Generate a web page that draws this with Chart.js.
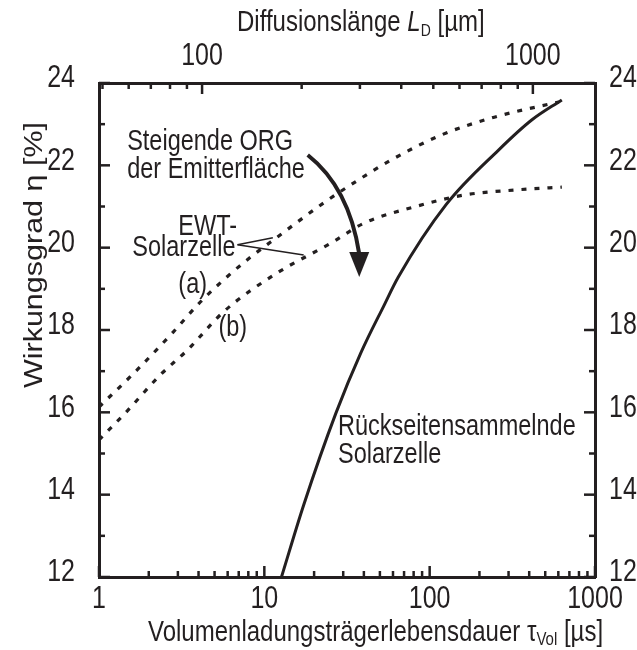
<!DOCTYPE html>
<html>
<head>
<meta charset="utf-8">
<script src="https://cdn.jsdelivr.net/npm/chart.js@4.4.1/dist/chart.umd.min.js"></script>
<style>
  body { margin: 0; background: #fff; }
</style>
</head>
<body>
<canvas id="effChart" width="637" height="650"></canvas>
<script>
    // Rückseitensammelnde Solarzelle (solid)
    const tauRueck = [12.7, 17.3, 27.1, 38.4, 53, 64.5, 126, 261, 414, 630];
    const etaRueck = [12.0, 13.75, 15.98, 17.45, 18.6, 19.28, 21.05, 22.37, 23.1, 23.59];

    // EWT-Solarzelle (a), upper dotted
    const tauEwtA = [1, 1.7, 2.81, 4.1, 5.98, 8.26, 12, 22.9, 36.9, 58.5, 118, 246, 604];
    const etaEwtA = [16.13, 17.03, 17.95, 18.68, 19.3, 19.77, 20.26, 21.09, 21.64, 22.13, 22.74, 23.17, 23.54];

    // EWT-Solarzelle (b), lower dotted
    const tauEwtB = [1, 1.44, 2.35, 3.42, 5.66, 12, 25.3, 40.3, 80.7, 162, 326, 630];
    const etaEwtB = [15.33, 15.98, 16.91, 17.51, 18.44, 19.39, 20.11, 20.6, 20.99, 21.28, 21.4, 21.47];

    // tick labels / tick marks
    const tauMajor = [1, 10, 100, 1000];
    const tauMinor = [2, 3, 4, 5, 6, 7, 8, 9, 20, 30, 40, 50, 60, 70, 80, 90, 200, 300, 400, 500, 600, 700, 800, 900];
    const ldMajor = [100, 1000];
    const ldMinor = [50, 60, 70, 80, 90, 200, 300, 400, 500, 600, 700, 800, 900];
    const etaMajor = [12, 14, 16, 18, 20, 22, 24];
    const etaMinor = [13, 15, 17, 19, 21, 23];

    const INK = '#231f20';
    const FONT = '"Liberation Sans", Arial, sans-serif';
    const STRETCH = 1.22; // the original lettering is drawn tall and narrow

    const toPoints = (xs, ys) => xs.map((x, i) => ({ x: x, y: ys[i] }));

    // text drawn taller than wide, like in the original figure
    function tallText(ctx, str, x, y, size, align, style) {
      ctx.save();
      ctx.font = (style ? style + ' ' : '') + size + 'px ' + FONT;
      ctx.textAlign = align || 'left';
      ctx.textBaseline = 'middle';
      ctx.translate(x, y);
      ctx.scale(1, STRETCH);
      ctx.fillText(str, 0, 0);
      const w = ctx.measureText(str).width;
      ctx.restore();
      return w;
    }

    const tickMarks = {
      x: { major: tauMajor, minor: tauMinor },
      x2: { major: ldMajor, minor: ldMinor },
      y: { major: etaMajor, minor: etaMinor },
      y2: { major: etaMajor, minor: etaMinor }
    };

    // inward ticks and tick labels on all four sides
    const inwardTicks = {
      id: 'inwardTicks',
      afterDatasetsDraw(chart) {
        const ctx = chart.ctx;
        const a = chart.chartArea;
        ctx.save();
        ctx.strokeStyle = INK;
        ctx.fillStyle = INK;
        ctx.lineWidth = 2.5;
        Object.keys(tickMarks).forEach(id => {
          const s = chart.scales[id];
          [['major', 11], ['minor', 6]].forEach(([kind, len]) => {
            tickMarks[id][kind].forEach(v => {
              const p = s.getPixelForValue(v);
              ctx.beginPath();
              if (id === 'x') { ctx.moveTo(p, a.bottom); ctx.lineTo(p, a.bottom - len); }
              else if (id === 'x2') { ctx.moveTo(p, a.top); ctx.lineTo(p, a.top + len); }
              else if (id === 'y') { ctx.moveTo(a.left, p); ctx.lineTo(a.left + len, p); }
              else { ctx.moveTo(a.right, p); ctx.lineTo(a.right - len, p); }
              ctx.stroke();
            });
          });
          s.ticks.forEach(t => {
            const p = s.getPixelForValue(t.value);
            const txt = String(t.value);
            if (id === 'x') tallText(ctx, txt, p, a.bottom + 23, 25, 'center');
            else if (id === 'x2') tallText(ctx, txt, p, a.top - 26, 25, 'center');
            else if (id === 'y') tallText(ctx, txt, a.left - 24, p - 4, 25, 'right');
            else tallText(ctx, txt, a.right + 14, p - 4, 25, 'left');
          });
        });
        ctx.restore();
      }
    };

    // texts, pointer lines and the curved arrow
    const annotations = {
      id: 'annotations',
      afterDraw(chart) {
        const ctx = chart.ctx;
        const sx = chart.scales.x, sy = chart.scales.y;
        const P = (t, e) => [sx.getPixelForValue(t), sy.getPixelForValue(e)];
        ctx.save();
        ctx.fillStyle = INK;
        ctx.strokeStyle = INK;

        const label = (str, t, e) => { const [x, y] = P(t, e); tallText(ctx, str, x, y, 23.5); };
        label('Steigende ORG', 1.48, 22.57);
        label('der Emitterfläche', 1.48, 21.89);
        label('EWT-', 3.02, 20.5);
        label('Solarzelle', 1.59, 19.99);
        label('(a)', 3.02, 19.09);
        label('(b)', 5.28, 18.05);
        label('Rückseitensammelnde', 27.9, 15.64);
        label('Solarzelle', 27.9, 14.96);

        // pointer lines from "Solarzelle"
        ctx.lineWidth = 1.6;
        const p0 = P(6.88, 20.07);
        [P(11.26, 20.24), P(17.3, 19.82)].forEach(q => {
          ctx.beginPath(); ctx.moveTo(p0[0], p0[1]); ctx.lineTo(q[0], q[1]); ctx.stroke();
        });

        // curved arrow
        const s0 = P(18.3, 22.25), c0 = P(32.5, 21.46), s1 = P(37.5, 19.85), tip = P(37.5, 19.29);
        ctx.lineWidth = 4;
        ctx.beginPath(); ctx.moveTo(s0[0], s0[1]); ctx.quadraticCurveTo(c0[0], c0[1], s1[0], s1[1]); ctx.stroke();
        ctx.beginPath();
        ctx.moveTo(tip[0], tip[1]);
        ctx.lineTo(tip[0] - 10, tip[1] - 25);
        ctx.lineTo(tip[0] + 10, tip[1] - 25);
        ctx.closePath();
        ctx.fill();

        // bottom axis title
        let x = 148;
        const yb = 633;
        x += tallText(ctx, 'Volumenladungsträgerlebensdauer ', x, yb, 24);
        x += tallText(ctx, 'τ', x, yb, 24);
        x += tallText(ctx, 'Vol', x, yb + 7, 15);
        tallText(ctx, ' [µs]', x, yb, 24);

        // top axis title
        x = 237;
        const yt = 23;
        x += tallText(ctx, 'Diffusionslänge ', x, yt, 24);
        x += tallText(ctx, 'L', x, yt, 24, 'left', 'italic');
        x += tallText(ctx, 'D', x, yt + 8, 14);
        tallText(ctx, ' [µm]', x, yt, 24);

        // y title, stretched along its length
        ctx.translate(35, 255);
        ctx.rotate(-Math.PI / 2);
        ctx.scale(STRETCH, 1);
        ctx.font = '25px ' + FONT;
        ctx.textAlign = 'center';
        ctx.textBaseline = 'middle';
        ctx.fillText('Wirkungsgrad η [%]', 0, 0);
        ctx.restore();
      }
    };

    new Chart(document.getElementById('effChart'), {
      type: 'line',
      data: {
        datasets: [
          {
            label: 'Rückseitensammelnde Solarzelle',
            data: toPoints(tauRueck, etaRueck),
            borderColor: INK,
            borderWidth: 3,
            pointRadius: 0,
            cubicInterpolationMode: 'monotone'
          },
          {
            label: 'EWT-Solarzelle (a)',
            data: toPoints(tauEwtA, etaEwtA),
            borderColor: INK,
            borderWidth: 3.2,
            borderDash: [5, 8],
            pointRadius: 0,
            cubicInterpolationMode: 'monotone'
          },
          {
            label: 'EWT-Solarzelle (b)',
            data: toPoints(tauEwtB, etaEwtB),
            borderColor: INK,
            borderWidth: 3.2,
            borderDash: [5, 8],
            pointRadius: 0,
            cubicInterpolationMode: 'monotone'
          }
        ]
      },
      options: {
        responsive: false,
        animation: false,
        devicePixelRatio: 1,
        layout: { padding: 0 },
        plugins: {
          legend: { display: false },
          tooltip: { enabled: false }
        },
        scales: {
          x: {
            type: 'logarithmic',
            position: 'bottom',
            min: 1,
            max: 1000,
            afterBuildTicks: s => { s.ticks = tauMajor.map(v => ({ value: v })); },
            afterFit: s => { s.height = 73; },
            ticks: { display: false },
            grid: { drawOnChartArea: false, drawTicks: false },
            border: { color: INK, width: 3 }
          },
          x2: {
            type: 'logarithmic',
            position: 'top',
            min: 48.8,
            max: 1541,
            afterBuildTicks: s => { s.ticks = ldMajor.map(v => ({ value: v })); },
            afterFit: s => { s.height = 83; },
            ticks: { display: false },
            grid: { drawOnChartArea: false, drawTicks: false },
            border: { color: INK, width: 3 }
          },
          y: {
            type: 'linear',
            position: 'left',
            min: 12,
            max: 24,
            afterBuildTicks: s => { s.ticks = etaMajor.map(v => ({ value: v })); },
            afterFit: s => { s.width = 99; },
            ticks: { display: false },
            grid: { drawOnChartArea: false, drawTicks: false },
            border: { color: INK, width: 3 }
          },
          y2: {
            type: 'linear',
            position: 'right',
            min: 12,
            max: 24,
            afterBuildTicks: s => { s.ticks = etaMajor.map(v => ({ value: v })); },
            afterFit: s => { s.width = 42; },
            ticks: { display: false },
            grid: { drawOnChartArea: false, drawTicks: false },
            border: { color: INK, width: 3 }
          }
        }
      },
      plugins: [inwardTicks, annotations]
    });
</script>
</body>
</html>
